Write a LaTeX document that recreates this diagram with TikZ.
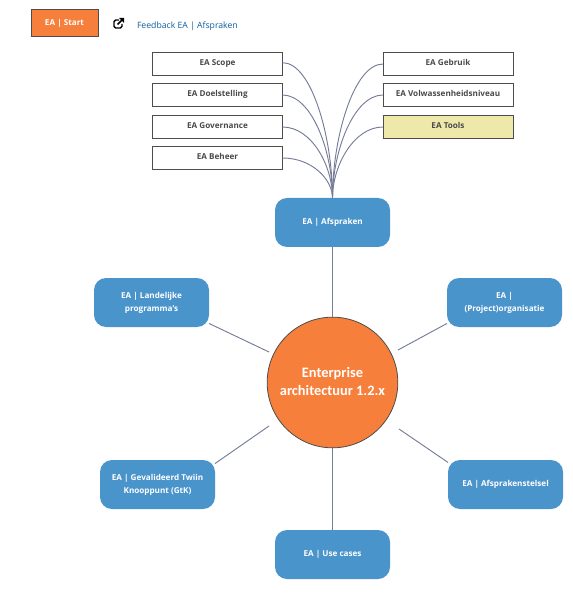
\documentclass[tikz,border=0pt]{standalone}
\usepackage{fontspec}
\setmainfont{Open Sans}
\newfontfamily\circfont{Carlito}
\usetikzlibrary{shapes.misc}
\definecolor{boxline}{HTML}{4D4D4D}
\definecolor{conn}{HTML}{767C98}
\definecolor{blueb}{HTML}{4A94CC}
\definecolor{orng}{HTML}{F67F3B}
\definecolor{yell}{HTML}{EEE8AA}
\definecolor{lnk}{HTML}{0B5C9E}
\definecolor{txt}{HTML}{4A4A4A}
\tikzset{
  x=0.75pt, y=-0.75pt,
  every node/.style={font=\fontsize{6.1}{9.75}\selectfont\bfseries, inner sep=0pt, outer sep=0pt},
  plainbox/.style={draw=boxline, line width=0.75pt, fill=white, text=txt, minimum width=97.5pt, minimum height=17.25pt, text height=5pt, text depth=2.1pt},
  yellowbox/.style={plainbox, fill=yell},
  startbox/.style={draw=boxline, line width=0.75pt, fill=orng, text=white, minimum width=50.25pt, minimum height=20.25pt, text height=5pt, text depth=2.1pt},
  bluebox/.style={fill=blueb, text=white, rounded corners=9pt, minimum width=86.25pt, minimum height=36.75pt, align=center},
  hubnode/.style={circle, draw=boxline, line width=0.6pt, fill=orng, text=white, minimum size=98pt, align=center, font=\circfont\fontsize{10.8}{13}\selectfont\bfseries},
  spoke/.style={draw=conn, line width=0.7pt},
  branch/.style={draw=conn, line width=0.7pt, out distance=22pt},
}
\begin{document}
\begin{tikzpicture}
\useasboundingbox (0,0) rectangle (573,609);
\node[startbox] (start) at (64.5,23.5) {EA | Start};
\node[text=lnk, anchor=west, font=\fontsize{6.5}{9.75}\selectfont] (link) at (137,26) {Feedback EA | Afspraken};

\node[plainbox] (scope) at (217.5,64) {EA Scope};
\node[plainbox] (doel) at (217.5,95) {EA Doelstelling};
\node[plainbox] (gov) at (217.5,127) {EA Governance};
\node[plainbox] (beheer) at (217.5,158) {EA Beheer};
\node[plainbox] (gebruik) at (448,64) {EA Gebruik};
\node[plainbox] (volw) at (448,95) {EA Volwassenheidsniveau};
\node[yellowbox] (tools) at (448,127) {EA Tools};

\node[bluebox] (afs) at (332.5,222.5) {EA | Afspraken};
\node[bluebox] (land) at (151.5,302.5) {EA | Landelijke\\programma's};
\node[bluebox] (proj) at (504.5,302.5) {EA |\\(Project)organisatie};
\node[bluebox] (gev) at (157.5,484.5) {EA | Gevalideerd Twiin\\Knooppunt (GtK)};
\node[bluebox] (stelsel) at (505.5,484.5) {EA | Afsprakenstelsel};
\node[bluebox] (use) at (332.5,554.5) {EA | Use cases};
\node[hubnode] (hub) at (332.5,382.5) {\raisebox{1.6pt}{\shortstack{Enterprise\\[0.5pt]architectuur 1.2.x}}};

\coordinate (hubNW) at (269,352);
\coordinate (hubNE) at (398,350);
\coordinate (hubSW) at (269,426);
\coordinate (hubSE) at (399,429);

\draw[branch, in distance=45pt] ([yshift=1pt]scope.east) to[out=0,in=90] (afs.north);
\draw[branch, in distance=35pt] (doel.east) to[out=0,in=90] (afs.north);
\draw[branch, in distance=24pt] (gov.east) to[out=0,in=90] (afs.north);
\draw[branch, in distance=14pt] (beheer.east) to[out=0,in=90] (afs.north);
\draw[branch, in distance=45pt] (gebruik.west) to[out=180,in=90] (afs.north);
\draw[branch, in distance=35pt] (volw.west) to[out=180,in=90] (afs.north);
\draw[branch, in distance=24pt] (tools.west) to[out=180,in=90] (afs.north);

\draw[spoke] (afs.south) -- (hub.north);
\draw[spoke] (use.north) -- (hub.south);
\draw[spoke] (land.-20.5) -- (hubNW);
\draw[spoke] (proj.200.5) -- (hubNE);
\draw[spoke] (gev.20.5) -- (hubSW);
\draw[spoke] (stelsel.159.5) -- (hubSE);

% external-link icon
\draw[black, line width=1pt, rounded corners=1.2pt] (119,20) -- (114,20) -- (114,28) -- (122,28) -- (122,24);
\draw[black, line width=1.2pt] (117.5,24.5) -- (122,20);
\fill[black] (119,18) -- (124,18) -- (124,23) -- cycle;
\end{tikzpicture}
\end{document}
